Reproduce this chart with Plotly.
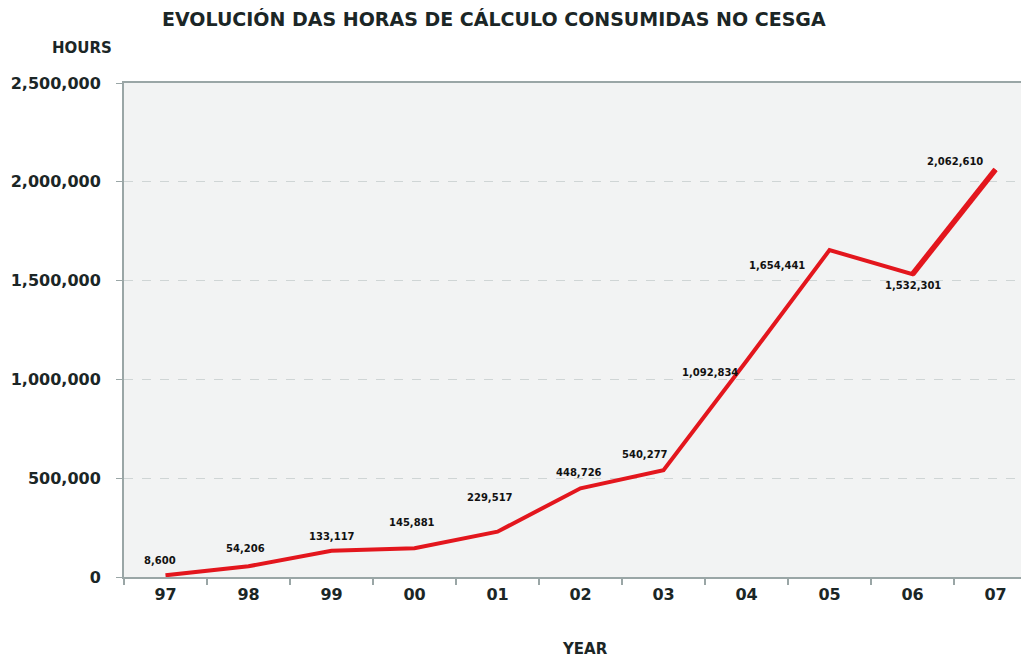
import plotly.graph_objects as go

# data
years = ["97", "98", "99", "00", "01", "02", "03", "04", "05", "06", "07"]
hours = [8600, 54206, 133117, 145881, 229517, 448726, 540277, 1092834, 1654441, 1532301, 2062610]
point_labels = ["8,600", "54,206", "133,117", "145,881", "229,517", "448,726", "540,277",
                "1,092,834", "1,654,441", "1,532,301", "2,062,610"]

# label offsets (pixels) relative to each point
label_dx = [-6, -3, 0, -3, -8, -2, -19, -37, -53, 0, -41]
label_dy = [15, 18, 14, 26, 34, 16, 16, -11, -15, -11, 8]

FONT = "DejaVu Sans"
DARK = "#1b2626"
AXIS = "#9aa6a6"
RED = "#e3161d"

# plot area in page pixels, used to place the free text
PX_L, PX_R, PX_T, PX_B = 122, 1035, 82, 576


def paper_xy(px, py):
    return (px - PX_L) / (PX_R - PX_L), (PX_B - py) / (PX_B - PX_T)


fig = go.Figure()
fig.add_trace(go.Scatter(x=years, y=hours, mode="lines",
                         line=dict(color=RED, width=4), hoverinfo="x+y"))
# last segment is drawn heavier in the original
fig.add_trace(go.Scatter(x=years[-2:], y=hours[-2:], mode="lines",
                         line=dict(color=RED, width=5.5), hoverinfo="skip"))

# category index as x, string years like "00" get read as numbers
for i, (v, txt, dx, dy) in enumerate(zip(hours, point_labels, label_dx, label_dy)):
    fig.add_annotation(x=i, y=v, text=f"<b>{txt}</b>", showarrow=False,
                       xshift=dx, yshift=dy, font=dict(family=FONT, size=10, color="#111"))


def page_text(txt, px, py, size):
    x, y = paper_xy(px, py)
    fig.add_annotation(text=f"<b>{txt}</b>", xref="paper", yref="paper", x=x, y=y,
                       xanchor="center", yanchor="middle", showarrow=False,
                       font=dict(family=FONT, size=size, color=DARK))


page_text("EVOLUCIÓN DAS HORAS DE CÁLCULO CONSUMIDAS NO CESGA", 492, 17, 19)
page_text("HOURS", 80, 47, 15)
page_text("YEAR", 583, 648, 15)

fig.update_layout(
    width=1029, height=660,
    margin=dict(l=116, r=0, t=75, b=91),
    paper_bgcolor="white", plot_bgcolor="#f2f3f3",
    showlegend=False,
    font=dict(family=FONT, color=DARK),
)
fig.update_xaxes(type="category", range=[-0.5, 10.5], tickson="boundaries",
                 ticks="outside", ticklen=6, tickcolor=AXIS, tickwidth=2,
                 showline=True, linecolor=AXIS, linewidth=2, mirror=True,
                 showgrid=False, ticklabelstandoff=2,
                 tickfont=dict(family=FONT, size=16, color=DARK, weight="bold"))
fig.update_yaxes(range=[0, 2500000], dtick=500000, tickformat=",",
                 ticks="outside", ticklen=6, tickcolor=AXIS,
                 showline=True, linecolor=AXIS, linewidth=2,
                 showgrid=True, gridcolor="#cfd5d5", griddash="dash", gridwidth=1,
                 zeroline=False, ticklabelstandoff=12,
                 tickfont=dict(family=FONT, size=16, color=DARK, weight="bold"))

fig.write_html("out.html")
